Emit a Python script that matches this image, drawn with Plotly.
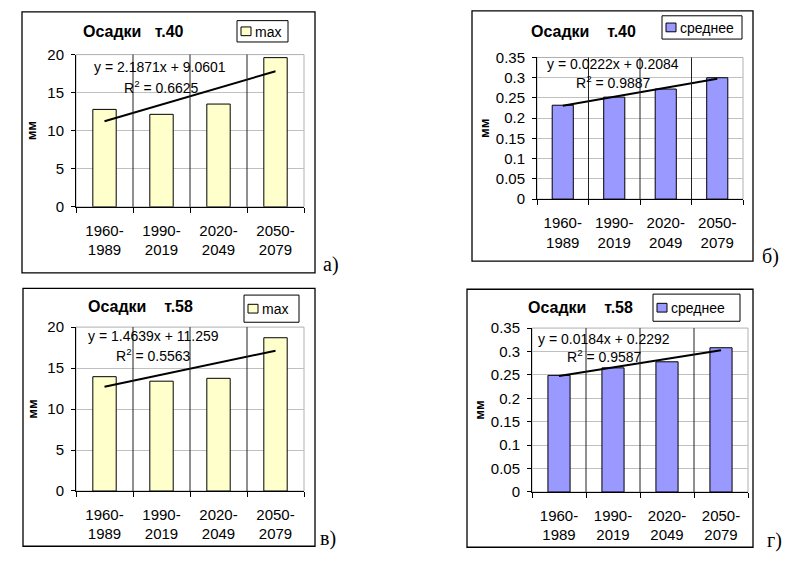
import plotly.graph_objects as go

# ---------------- data ----------------
categories = ["1960-<br>1989", "1990-<br>2019", "2020-<br>2049", "2050-<br>2079"]
max_t40 = [12.8, 12.15, 13.5, 19.6]
mean_t40 = [0.232, 0.252, 0.272, 0.300]
max_t58 = [13.95, 13.4, 13.75, 18.7]
mean_t58 = [0.249, 0.265, 0.278, 0.308]

titles = ["Осадки   т.40", "Осадки    т.40", "Осадки    т.58", "Осадки    т.58"]
series_names = ["max", "среднее", "max", "среднее"]
trend_slope = [2.1871, 0.0222, 1.4639, 0.0184]
trend_intercept = [9.0601, 0.2084, 11.259, 0.2292]
trend_r2 = [0.6625, 0.9887, 0.5563, 0.9587]
panel_labels = ["а)", "б)", "в)", "г)"]
y_axis_title = "мм"

ytick_max_vals = [0, 5, 10, 15, 20]
ytick_max_text = ["0", "5", "10", "15", "20"]
ytick_mean_vals = [0, 0.05, 0.1, 0.15, 0.2, 0.25, 0.3, 0.35]
ytick_mean_text = ["0", "0.05", "0.1", "0.15", "0.2", "0.25", "0.3", "0.35"]

series = [max_t40, mean_t40, max_t58, mean_t58]
colors = ["#FFFFCC", "#9999FF", "#FFFFCC", "#9999FF"]
yranges = [[0, 20], [0, 0.35], [0, 20], [0, 0.35]]
yticks = [(ytick_max_vals, ytick_max_text), (ytick_mean_vals, ytick_mean_text),
          (ytick_max_vals, ytick_max_text), (ytick_mean_vals, ytick_mean_text)]

# ---------------- layout (pixel positions) ----------------
W, H = 793, 563
panels_px = [
    dict(plot=(76, 304, 47, 204), box=(22, 315, 3, 272), title=(133, 23),
         leg=(237, 288, 12, 34), eq=(160, 60), r2=(161, 80), lab=(331, 263), mmstand=7),
    dict(plot=(537, 743, 50, 196), box=(472, 753, 2, 260), title=(583, 23),
         leg=(662, 742, 7, 31), eq=(613, 57), r2=(613, 75), lab=(770, 255), mmstand=3),
    dict(plot=(76, 304, 328, 497), box=(23, 315, 288, 554), title=(140, 307),
         leg=(244, 299, 295, 323), eq=(153, 337), r2=(153, 357), lab=(328, 546), mmstand=6),
    dict(plot=(532, 748, 329, 498), box=(467, 753, 289, 555), title=(580, 308),
         leg=(653, 740, 294, 322), eq=(604, 340), r2=(604, 358), lab=(774, 548), mmstand=3),
]


def px_x(v):
    return v / W


def px_y(v):
    return 1 - v / H


FONT = "Liberation Sans, Arial, sans-serif"
SERIF = "Liberation Serif, Times New Roman, serif"

fig = go.Figure()
shapes = []
annotations = []
xpos = list(range(1, len(categories) + 1))

for i, p in enumerate(panels_px):
    n = "" if i == 0 else str(i + 1)
    xa, ya = "x" + n, "y" + n
    vals = series[i]

    fig.add_trace(go.Bar(
        x=xpos, y=vals, xaxis=xa, yaxis=ya, name=series_names[i],
        marker=dict(color=colors[i], line=dict(color="black", width=1)),
        width=0.41, showlegend=False, hoverinfo="y",
    ))
    tx = [xpos[0], xpos[-1]]
    ty = [trend_intercept[i] + trend_slope[i] * t for t in tx]
    fig.add_trace(go.Scatter(
        x=tx, y=ty, xaxis=xa, yaxis=ya, mode="lines",
        line=dict(color="black", width=2), showlegend=False, hoverinfo="skip",
    ))

    x0, x1, y0, y1 = p["plot"]
    minor_vals = [k + 0.5 for k in range(len(categories) + 1)]
    fig.layout["xaxis" + n] = dict(
        domain=[px_x(x0), px_x(x1)], anchor=ya, range=[0.5, len(categories) + 0.5],
        tickvals=xpos, ticktext=categories, ticks="", showgrid=False,
        showline=True, linecolor="black", linewidth=1, zeroline=False,
        tickfont=dict(family=FONT, size=15, color="black"),
        ticklabelstandoff=10,
        minor=dict(tickvals=minor_vals, ticks="outside", ticklen=5,
                   tickcolor="black", tickwidth=1, showgrid=False),
        fixedrange=True,
    )
    tv, tt = yticks[i]
    fig.layout["yaxis" + n] = dict(
        domain=[px_y(y1), px_y(y0)], anchor=xa, range=yranges[i],
        tickvals=tv, ticktext=tt, ticks="outside", ticklen=4, tickcolor="black",
        showgrid=True, gridcolor="#C0C0C0", gridwidth=1,
        showline=True, linecolor="black", linewidth=1, zeroline=False,
        tickfont=dict(family=FONT, size=15, color="black"),
        ticklabelstandoff=4,
        title=dict(text=y_axis_title,
                   font=dict(family=FONT, size=13, color="black", weight="bold"),
                   standoff=p["mmstand"]),
        fixedrange=True,
    )
    # plot-area border (grey) and category separators (vertical gridlines)
    shapes.append(dict(type="rect", xref=xa + " domain", yref=ya + " domain",
                       x0=0, x1=1, y0=0, y1=1, line=dict(color="#B0B0B0", width=1),
                       layer="below"))
    for k in range(1, len(categories)):
        shapes.append(dict(type="line", xref=xa, yref=ya + " domain",
                           x0=k + 0.5, x1=k + 0.5, y0=0, y1=1,
                           line=dict(color="#202020", width=1), layer="above"))
    # chart outer border
    bx0, bx1, by0, by1 = p["box"]
    shapes.append(dict(type="rect", xref="paper", yref="paper",
                       x0=px_x(bx0), x1=px_x(bx1), y0=px_y(by1), y1=px_y(by0),
                       line=dict(color="black", width=1.3)))
    # title
    annotations.append(dict(text=titles[i].replace(" ", "\u00a0"), xref="paper", yref="paper",
                            x=px_x(p["title"][0]), y=px_y(p["title"][1]),
                            xanchor="center", yanchor="middle", showarrow=False,
                            font=dict(family=FONT, size=16, color="black", weight="bold")))
    # legend box
    lx0, lx1, ly0, ly1 = p["leg"]
    shapes.append(dict(type="rect", xref="paper", yref="paper",
                       x0=px_x(lx0), x1=px_x(lx1), y0=px_y(ly1), y1=px_y(ly0),
                       line=dict(color="black", width=1), fillcolor="white"))
    ymid = (ly0 + ly1) / 2
    shapes.append(dict(type="rect", xref="paper", yref="paper",
                       x0=px_x(lx0 + 4), x1=px_x(lx0 + 14),
                       y0=px_y(ymid + 4.5), y1=px_y(ymid - 4.5),
                       line=dict(color="black", width=1), fillcolor=colors[i]))
    annotations.append(dict(text=series_names[i], xref="paper", yref="paper",
                            x=px_x(lx0 + 16), y=px_y(ymid + 0.5), xanchor="left", yanchor="middle",
                            showarrow=False,
                            font=dict(family=FONT, size=14, color="black")))
    # trendline equation and R^2
    annotations.append(dict(text=f"y = {trend_slope[i]}x + {trend_intercept[i]}",
                            xref="paper", yref="paper",
                            x=px_x(p["eq"][0]), y=px_y(p["eq"][1]),
                            xanchor="center", yanchor="middle", showarrow=False,
                            font=dict(family=FONT, size=14, color="black")))
    annotations.append(dict(text=f"R<sup>2</sup> = {trend_r2[i]}",
                            xref="paper", yref="paper",
                            x=px_x(p["r2"][0]), y=px_y(p["r2"][1]),
                            xanchor="center", yanchor="middle", showarrow=False,
                            font=dict(family=FONT, size=14, color="black")))
    # panel label
    annotations.append(dict(text=panel_labels[i], xref="paper", yref="paper",
                            x=px_x(p["lab"][0]), y=px_y(p["lab"][1]),
                            xanchor="center", yanchor="middle", showarrow=False,
                            font=dict(family=SERIF, size=20, color="black")))

fig.update_layout(
    width=W, height=H, margin=dict(l=0, r=0, t=0, b=0),
    paper_bgcolor="white", plot_bgcolor="white",
    shapes=shapes, annotations=annotations, showlegend=False,
)

fig.write_html("out.html", config={"displayModeBar": False})
